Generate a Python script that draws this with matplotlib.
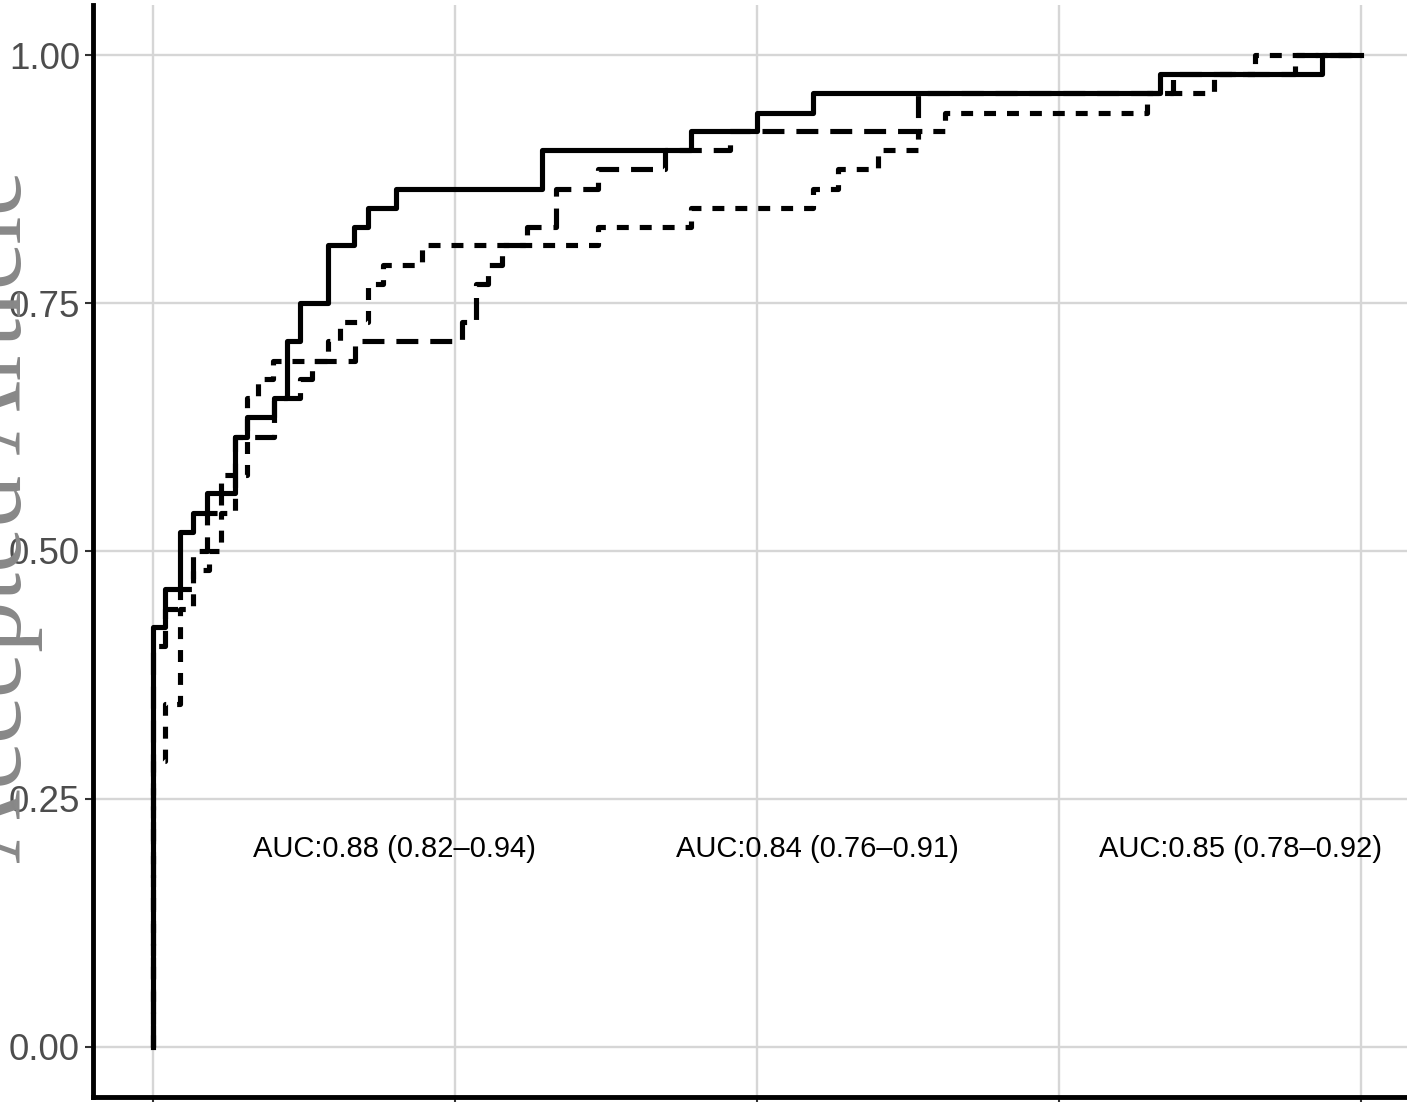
import matplotlib
matplotlib.use('Agg')
from matplotlib import pyplot as plt

# ROC step curves (false positive rate, true positive rate)
fpr_solid = [0, 0, 0.010, 0.022, 0.033, 0.045, 0.068, 0.078, 0.100, 0.111, 0.122,
             0.145, 0.166, 0.178, 0.201, 0.322, 0.445, 0.500, 0.546, 0.834, 0.968, 1.0]
tpr_solid = [0, 0.423, 0.462, 0.519, 0.538, 0.558, 0.615, 0.635, 0.654, 0.712, 0.750,
             0.808, 0.827, 0.846, 0.865, 0.904, 0.923, 0.942, 0.962, 0.981, 1.0, 1.0]

fpr_long = [0, 0, 0.010, 0.022, 0.033, 0.045, 0.056, 0.068, 0.100, 0.122, 0.132, 0.167,
            0.256, 0.267, 0.277, 0.289, 0.310, 0.334, 0.368, 0.424, 0.478, 0.633, 0.844,
            0.945, 1.0]
tpr_long = [0, 0.404, 0.442, 0.462, 0.500, 0.538, 0.577, 0.615, 0.654, 0.673, 0.692, 0.712,
            0.731, 0.769, 0.788, 0.808, 0.827, 0.865, 0.885, 0.904, 0.923, 0.962, 0.981,
            1.0, 1.0]

fpr_short = [0, 0, 0.010, 0.022, 0.033, 0.046, 0.056, 0.068, 0.078, 0.087, 0.099, 0.145,
             0.155, 0.178, 0.190, 0.223, 0.368, 0.445, 0.546, 0.567, 0.600, 0.633, 0.656,
             0.823, 0.878, 0.912, 1.0]
tpr_short = [0, 0.288, 0.346, 0.442, 0.481, 0.500, 0.538, 0.577, 0.654, 0.673, 0.692, 0.712,
             0.731, 0.769, 0.788, 0.808, 0.827, 0.846, 0.865, 0.885, 0.904, 0.923, 0.942,
             0.962, 0.981, 1.0, 1.0]

auc_labels = ['AUC:0.88 (0.82\u20130.94)', 'AUC:0.84 (0.76\u20130.91)', 'AUC:0.85 (0.78\u20130.92)']
auc_x = [0.2, 0.55, 0.9]
auc_y = [0.2, 0.2, 0.2]

yticks = [0, 0.25, 0.5, 0.75, 1.0]
xticks = [0, 0.25, 0.5, 0.75, 1.0]

W, H = 1407, 1102
plt.rcParams['font.family'] = ['Liberation Sans', 'DejaVu Sans']
plt.rcParams['lines.scale_dashes'] = False

fig = plt.figure(figsize=(W / 100, H / 100), dpi=100)

# panel placed in pixels (the right side runs past the image edge, as in the reference)
left, right, top, bottom = 92.6, 1421.4, 5.4, 1096.6
ax = fig.add_axes([left / W, (H - bottom) / H, (right - left) / W, (bottom - top) / H])

ax.set_xlim(-0.05, 1.05)
ax.set_ylim(-0.05, 1.05)
ax.set_xticks(xticks)
ax.set_yticks(yticks)
ax.set_xticklabels([])
ax.set_yticklabels([f'{v:.2f}' for v in yticks])
ax.grid(True, color='#d6d6d6', lw=1.7, zorder=0)
ax.set_axisbelow(True)

for s in ['top', 'right']:
    ax.spines[s].set_visible(False)
for s in ['left', 'bottom']:
    ax.spines[s].set_linewidth(3.5)
    ax.spines[s].set_color('black')

ax.tick_params(axis='both', length=5.5, width=1.5, color='#333333',
               labelsize=26.5, labelcolor='#4d4d4d', pad=3.5)

lw = 3.7
ax.step(fpr_short, tpr_short, where='post', color='black', lw=lw,
        dashes=(8.6, 7.9), zorder=3)
ax.step(fpr_long, tpr_long, where='post', color='black', lw=lw,
        dashes=(15.8, 8.6), zorder=3)
ax.step(fpr_solid, tpr_solid, where='post', color='black', lw=lw, zorder=4)

for lbl, x, y in zip(auc_labels, auc_x, auc_y):
    ax.text(x, y, lbl, ha='center', va='center', fontsize=21, color='black', zorder=5)

# journal watermark along the left edge
fig.text(21 / W, (H - 516) / H, 'Accepted Article', rotation=90, rotation_mode='anchor',
         ha='center', va='baseline', fontsize=74, color='#888888',
         family=['Liberation Serif', 'DejaVu Serif'], zorder=10)

fig.savefig('out.png', dpi=100)
